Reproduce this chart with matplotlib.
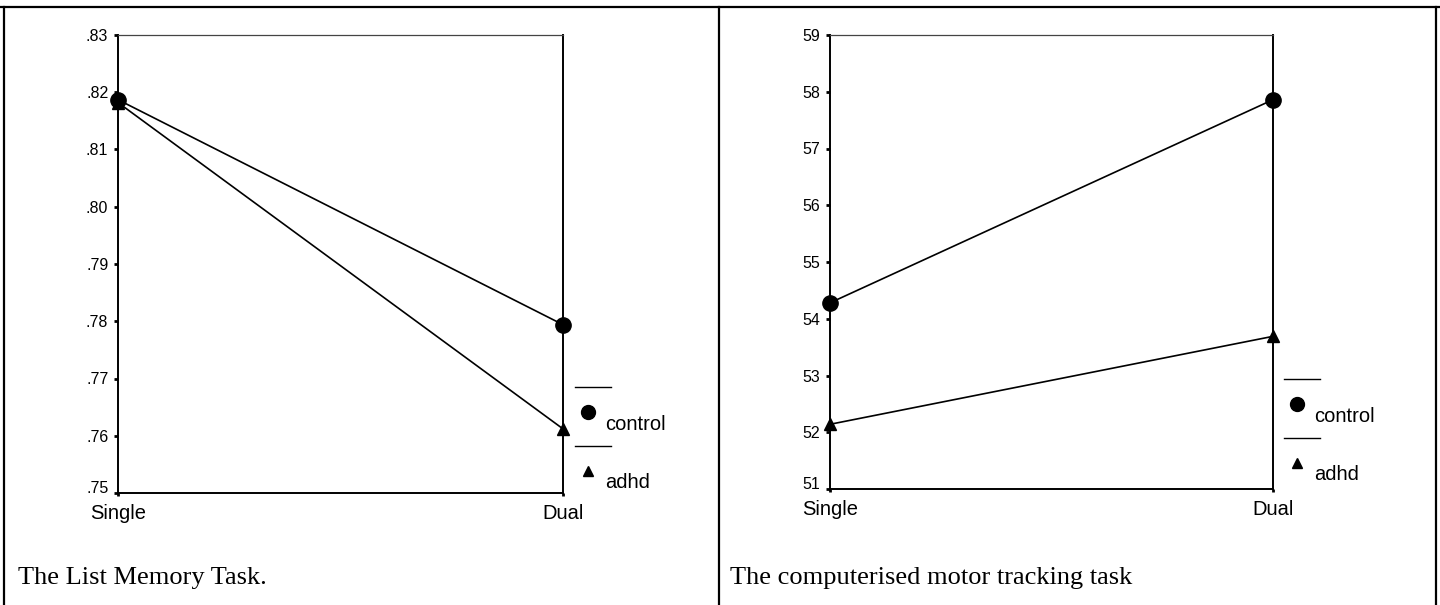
import numpy as np
from matplotlib import pyplot as plt
from matplotlib.lines import Line2D
from matplotlib.transforms import ScaledTranslation

# data
conditions = ['Single', 'Dual']
groups = ['control', 'adhd']
group_markers = ['o', '^']

memory_control = [0.8187, 0.7794]
memory_adhd = [0.8182, 0.7612]
memory_ticks = [0.75, 0.76, 0.77, 0.78, 0.79, 0.80, 0.81, 0.82, 0.83]

tracking_control = [54.28, 57.86]
tracking_adhd = [52.14, 53.69]
tracking_ticks = [51, 52, 53, 54, 55, 56, 57, 58, 59]

captions = ['The List Memory Task.', 'The computerised motor tracking task']

W, H = 1440, 605
plt.rcParams['font.family'] = ['Liberation Sans', 'DejaVu Sans']
fig = plt.figure(figsize=(W / 100, H / 100), dpi=100)


def fx(x):
    return x / W


def fy(y):
    return 1 - y / H


# table-like frame around the two panels
for (x0, y0, x1, y1) in [(0, 7, W, 7), (4, 7, 4, H), (1436, 7, 1436, H),
                         (719, 7, 719, H)]:
    fig.add_artist(Line2D([fx(x0), fx(x1)], [fy(y0), fy(y1)], color='black',
                          lw=1.6, transform=fig.transFigure))


def panel(box, series, ticks, fmt, caption, cap_y, leg_x, leg_y):
    x0, y0, x1, y1 = box
    ax = fig.add_axes([fx(x0), fy(y1), fx(x1 - x0), (y1 - y0) / H])
    xs = np.arange(len(conditions))
    for vals, m in zip(series, group_markers):
        ax.plot(xs, vals, color='black', lw=1.2, marker=m,
                markersize=11 if m == 'o' else 8, clip_on=False, zorder=5)
    ax.set_xlim(0, 1)
    ax.set_ylim(ticks[0], ticks[-1])
    ax.set_yticks(ticks)
    ax.set_yticklabels([fmt(t) for t in ticks], fontsize=11.5)
    ax.set_xticks(xs)
    ax.set_xticklabels(conditions, fontsize=14.5)
    ax.tick_params(axis='y', direction='out', length=3, width=2, pad=4)
    ax.tick_params(axis='x', direction='out', length=2, width=2, pad=6)
    for s in ['left', 'right', 'bottom']:
        ax.spines[s].set_linewidth(1.4)
    ax.spines['top'].set_linewidth(0.9)
    ax.spines['top'].set_color('#444444')
    # lowest tick label sits a little above its tick, clear of the x label
    fig.canvas.draw()
    lab = ax.get_yticklabels()[0]
    lab.set_transform(lab.get_transform() +
                      ScaledTranslation(0, 6 / 100, fig.dpi_scale_trans))

    # hand-drawn legend to the right of the plot
    for i, (g, m) in enumerate(zip(groups, group_markers)):
        ly = leg_y + i * 59
        fig.add_artist(Line2D([fx(leg_x), fx(leg_x + 36)], [fy(ly), fy(ly)],
                              color='black', lw=1.0, transform=fig.transFigure))
        fig.add_artist(Line2D([fx(leg_x + 13)], [fy(ly + 25)], color='black',
                              marker=m, markersize=10 if m == 'o' else 7,
                              linestyle='none', transform=fig.transFigure))
        fig.text(fx(leg_x + 30), fy(ly + 37), g, fontsize=14.5,
                 va='center', ha='left')

    fig.text(fx(box[0] - 100), fy(cap_y), caption, fontsize=19,
             family=['Liberation Serif', 'DejaVu Serif'], va='center', ha='left')
    return ax


panel((118, 35, 563, 493), [memory_control, memory_adhd], memory_ticks,
      lambda t: f"{t:.2f}".lstrip('0'), captions[0], 578, 575, 387)
panel((830, 35, 1273, 489), [tracking_control, tracking_adhd], tracking_ticks,
      lambda t: f"{t:d}", captions[1], 578, 1284, 379)

fig.savefig('out.png', dpi=100)
